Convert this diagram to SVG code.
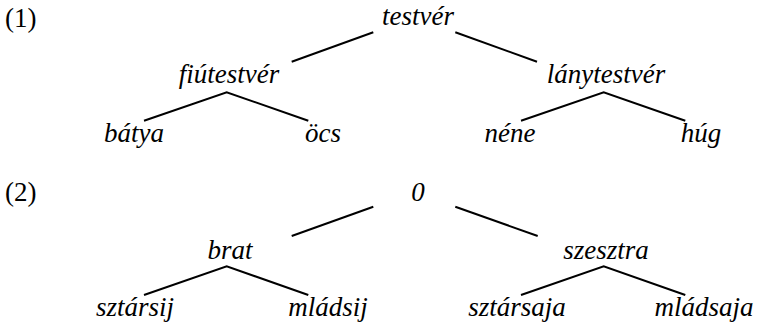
<svg xmlns="http://www.w3.org/2000/svg" width="757" height="326" viewBox="0 0 757 326">
  <style>
    .edge { stroke: #000; stroke-width: 2; fill: none; stroke-linecap: butt; }
  </style>
  <rect width="757" height="326" fill="#fff"/>

  <g font-family="'Liberation Serif', 'Times New Roman', serif" font-size="27" fill="#000">
    <!-- example numbers -->
    <text id="label-1" x="5" y="27">(1)</text>
    <text id="label-2" x="5" y="201">(2)</text>

    <g font-style="italic" text-anchor="middle">
      <!-- tree (1) nodes -->
      <g id="testver"><text x="418" y="25">testvér</text></g>
      <g id="fiutestver"><text x="229" y="83">fiútestvér</text></g>
      <g id="lanytestver"><text x="606" y="83">lánytestvér</text></g>
      <g id="batya"><text x="134" y="142">bátya</text></g>
      <g id="ocs"><text x="323" y="142">öcs</text></g>
      <g id="nene"><text x="510" y="142">néne</text></g>
      <g id="hug"><text x="701" y="142">húg</text></g>

      <!-- tree (2) nodes -->
      <g id="zero"><text x="418" y="201">0</text></g>
      <g id="brat"><text x="230" y="259">brat</text></g>
      <g id="szesztra"><text x="606" y="259">szesztra</text></g>
      <g id="sztarsij"><text x="135" y="316">sztársij</text></g>
      <g id="mladsij"><text x="328" y="316">mládsij</text></g>
      <g id="sztarsaja"><text x="517" y="316">sztársaja</text></g>
      <g id="mladsaja"><text x="704" y="316">mládsaja</text></g>
    </g>
  </g>

  <!-- tree (1) connectors -->
  <g id="connectors-1">
    <line class="edge" x1="291.7" y1="61.7" x2="373.3" y2="32.3"/>
    <line class="edge" x1="455.3" y1="32.3" x2="537" y2="61.7"/>
    <polyline class="edge" points="144,120.7 226.7,92.3 308.3,120.7"/>
    <polyline class="edge" points="521,120.7 603.7,92.3 685.3,120.7"/>
  </g>

  <!-- tree (2) connectors -->
  <g id="connectors-2">
    <line class="edge" x1="291.7" y1="236" x2="373.3" y2="206.7"/>
    <line class="edge" x1="455.3" y1="206.7" x2="537.7" y2="236"/>
    <polyline class="edge" points="144,295 226.7,266.3 308.3,295"/>
    <polyline class="edge" points="521,295 603.7,266.3 685.3,295"/>
  </g>
</svg>
